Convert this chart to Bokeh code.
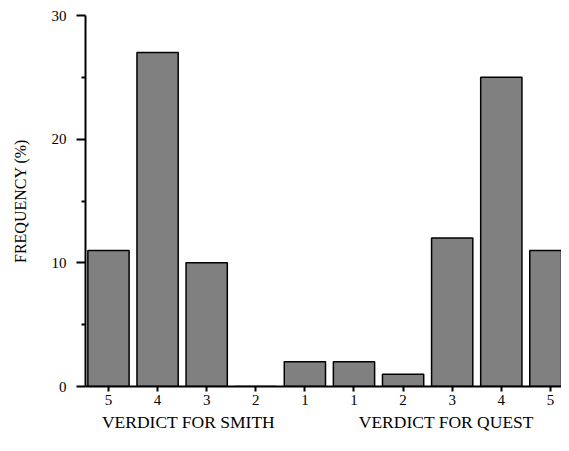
from bokeh.plotting import figure
from bokeh.models import FixedTicker, Range1d, ColumnDataSource, LinearAxis
from bokeh.embed import file_html
from bokeh.resources import INLINE

tick_labels = ["5", "4", "3", "2", "1", "1", "2", "3", "4", "5"]
frequency = [11, 27, 10, 0, 2, 2, 1, 12, 25, 11]
group_labels = ["VERDICT FOR SMITH", "VERDICT FOR QUEST"]
group_centers = [1.63, 6.88]
positions = list(range(len(tick_labels)))

FONT = "Liberation Serif"

p = figure(width=561, height=435, output_backend="svg", toolbar_location=None,
           x_range=Range1d(-0.468, 9.226), y_range=Range1d(0, 30),
           min_border_left=85, min_border_right=0, min_border_top=15, min_border_bottom=49)
p.outline_line_color = None
p.grid.visible = False

src = ColumnDataSource(dict(x=positions, top=frequency))
p.vbar(x="x", top="top", width=0.84, bottom=0, source=src,
       fill_color="#808080", line_color="black", line_width=1.5)

# x axis
xa = p.xaxis[0]
xa.ticker = FixedTicker(ticks=positions)
xa.major_label_overrides = {i: t for i, t in enumerate(tick_labels)}
xa.axis_line_width = 2
xa.axis_line_color = "black"
xa.major_tick_in = 0
xa.major_tick_out = 5
xa.major_tick_line_width = 2
xa.minor_tick_line_color = None
xa.major_label_text_font = FONT
xa.major_label_text_font_size = "15px"
xa.major_label_text_color = "black"
xa.major_label_standoff = 3

# group labels as a second, bare axis below
ga = LinearAxis(ticker=FixedTicker(ticks=group_centers),
                major_label_overrides={c: t for c, t in zip(group_centers, group_labels)})
ga.axis_line_color = None
ga.major_tick_line_color = None
ga.minor_tick_line_color = None
ga.major_tick_in = 0
ga.major_tick_out = 0
ga.major_label_text_font = FONT
ga.major_label_text_font_size = "17.5px"
ga.major_label_text_color = "black"
ga.major_label_standoff = 4
p.add_layout(ga, "below")

# y axis
ya = p.yaxis[0]
ya.ticker = FixedTicker(ticks=[0, 10, 20, 30], minor_ticks=[5, 15, 25])
ya.axis_line_width = 2
ya.axis_line_color = "black"
ya.major_tick_in = 0
ya.major_tick_out = 9
ya.major_tick_line_width = 2
ya.minor_tick_in = 0
ya.minor_tick_out = 4
ya.minor_tick_line_width = 2
ya.minor_tick_line_color = "black"
ya.major_label_text_font = FONT
ya.major_label_text_font_size = "15px"
ya.major_label_text_color = "black"
ya.major_label_standoff = 10
ya.axis_label = "FREQUENCY (%)"
ya.axis_label_text_font = FONT
ya.axis_label_text_font_style = "normal"
ya.axis_label_text_font_size = "16px"
ya.axis_label_text_color = "black"
ya.axis_label_standoff = 20

open("out.html", "w").write(file_html(p, INLINE))
